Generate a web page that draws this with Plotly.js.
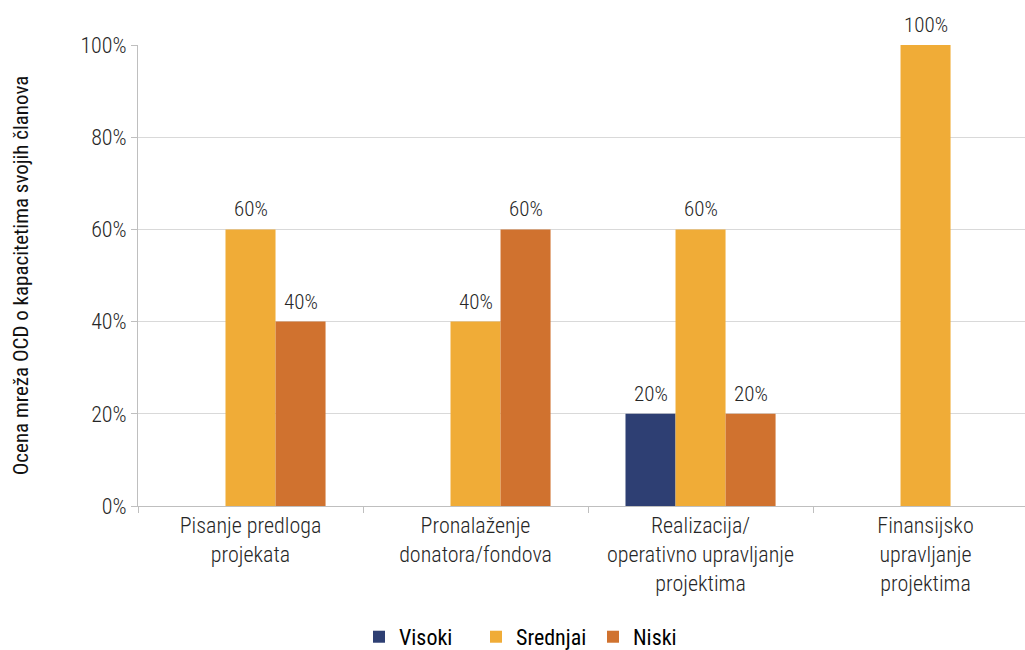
<!DOCTYPE html>
<html>
<head>
<meta charset="utf-8">
<script src="https://cdn.plot.ly/plotly-3.0.1.min.js"></script>
<style>html,body{margin:0;padding:0;background:#fff;}#chart{width:1025px;height:650px;}</style>
</head>
<body>
<div id="chart"></div>
<script>
const categories = ["Pisanje predloga<br>projekata", "Pronalaženje<br>donatora/fondova", "Realizacija/<br>operativno upravljanje<br>projektima", "Finansijsko<br>upravljanje<br>projektima"];
const seriesNames = ["Visoki", "Srednjai", "Niski"];
const visoki = [0, 0, 20, 0];
const srednjai = [60, 40, 60, 100];
const niski = [40, 60, 20, 0];
const colors = ["#2E3F73", "#F0AC37", "#D0722F"];
const yTicks = [0, 20, 40, 60, 80, 100];
const yTitle = "Ocena mreža OCD o kapacitetima svojih članova";

const FONT = "'Roboto Condensed', 'Liberation Sans Narrow', 'DejaVu Sans Condensed', Roboto, sans-serif";
const BARGAP = 0.333;
const allSeries = [visoki, srednjai, niski];
const xIdx = categories.map((c, i) => i);
const traces = allSeries.map((vals, i) => ({
  type: "bar",
  name: seriesNames[i],
  x: xIdx,
  y: vals,
  marker: {color: colors[i]},
  hoverinfo: "skip"
}));

// value labels placed above each bar (derived from the data + group layout)
const slot = (1 - BARGAP) / allSeries.length;
const annotations = [];
allSeries.forEach((vals, i) => {
  vals.forEach((v, j) => {
    if (v > 0) {
      annotations.push({
        x: j + (i - (allSeries.length - 1) / 2) * slot,
        y: v, xref: "x", yref: "y",
        text: v + "%", showarrow: false,
        yanchor: "bottom", yshift: 6,
        font: {family: FONT, size: 21, color: "#262626", weight: 300}
      });
    }
  });
});

const layout = {
  width: 1025, height: 650,
  margin: {l: 138, r: 0, t: 45, b: 144, autoexpand: false},
  paper_bgcolor: "#fff", plot_bgcolor: "#fff",
  font: {family: FONT, size: 22, color: "#262626", weight: 300},
  barmode: "group",
  bargap: BARGAP,
  bargroupgap: 0,
  annotations: annotations,
  xaxis: {
    type: "linear",
    range: [-0.5, 3.442],
    tickvals: xIdx,
    ticktext: categories,
    showline: true, linecolor: "#BFBFBF", linewidth: 1,
    ticks: "", showgrid: false, zeroline: false,
    tickfont: {family: FONT, size: 22, color: "#262626", weight: 300},
    automargin: false
  },
  xaxis2: {
    overlaying: "x", matches: "x", anchor: "y",
    tickvals: [-0.5, 0.5, 1.5, 2.5],
    showticklabels: false,
    ticks: "outside", ticklen: 6, tickcolor: "#BFBFBF",
    showline: false, showgrid: false, zeroline: false
  },
  yaxis: {
    range: [0, 100],
    tickvals: yTicks,
    ticktext: yTicks.map(v => v + "%"),
    showline: true, linecolor: "#BFBFBF", linewidth: 1,
    ticks: "outside", ticklen: 6, tickcolor: "#BFBFBF",
    gridcolor: "#D9D9D9", gridwidth: 1,
    tickfont: {family: FONT, size: 22, color: "#262626", weight: 300},
    title: {text: yTitle, font: {family: FONT, size: 21, color: "#111", weight: 400}, standoff: 46},
    zeroline: false,
    automargin: false
  },
  legend: {
    orientation: "h", x: 0.447, xanchor: "center", y: -0.284, yanchor: "middle",
    font: {family: FONT, size: 22, color: "#000", weight: 400},
    entrywidth: 72, entrywidthmode: "pixels",
    itemwidth: 30,
    traceorder: "normal"
  },
  showlegend: true
};

const tickTrace = {type: "scatter", x: [-0.5, 2.5], y: [0, 0], xaxis: "x2", mode: "none", showlegend: false, hoverinfo: "skip"};

Plotly.newPlot("chart", traces.concat([tickTrace]), layout, {displayModeBar: false, staticPlot: true});
</script>
</body>
</html>
